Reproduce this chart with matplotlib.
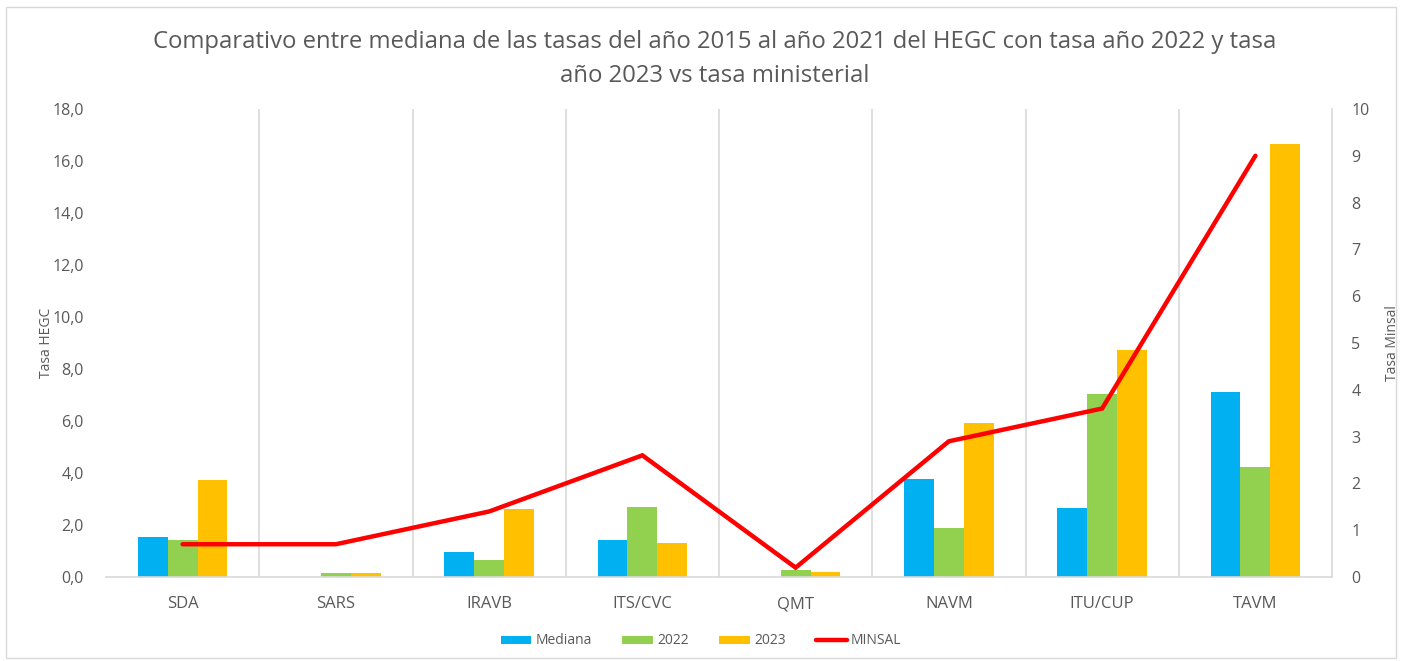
import matplotlib
matplotlib.use("Agg")
import matplotlib.pyplot as plt
import numpy as np
from matplotlib.patches import Rectangle

categories = ["SDA", "SARS", "IRAVB", "ITS/CVC", "QMT", "NAVM", "ITU/CUP", "TAVM"]
mediana = [1.55, 0.0, 0.95, 1.42, 0.0, 3.77, 2.65, 7.12]
y2022 = [1.41, 0.15, 0.67, 2.69, 0.26, 1.87, 7.05, 4.22]
y2023 = [3.72, 0.15, 2.62, 1.31, 0.19, 5.91, 8.75, 16.64]
minsal = [0.7, 0.7, 1.4, 2.6, 0.2, 2.9, 3.6, 9.0]

left_ticks = [0, 2, 4, 6, 8, 10, 12, 14, 16, 18]
right_ticks = list(range(0, 11))

title = "Comparativo entre mediana de las tasas del año 2015 al año 2021 del HEGC con tasa año 2022 y tasa\naño 2023 vs tasa ministerial"

plt.rcParams['font.family'] = ['Open Sans', 'DejaVu Sans']
gray = "#595959"
c_med, c_22, c_23, c_min = "#00B0F0", "#92D050", "#FFC000", "#FF0000"

fig = plt.figure(figsize=(14.02, 6.61), dpi=100)
fig.patch.set_facecolor("white")
fig.add_artist(Rectangle((0.004, 0.005), 0.992, 0.985, transform=fig.transFigure,
                         fill=False, edgecolor="#D9D9D9", linewidth=1.0))

ax = fig.add_axes([106/1402, 1-577/661, (1332-106)/1402, (577-109)/661])
x = np.arange(len(categories))
w = 0.195
ax.bar(x - w, mediana, w, color=c_med, label="Mediana", zorder=2)
ax.bar(x, y2022, w, color=c_22, label="2022", zorder=2)
ax.bar(x + w, y2023, w, color=c_23, label="2023", zorder=2)
ax.set_xlim(-0.5, len(categories) - 0.5)
ax.set_ylim(0, 18)
ax.set_yticks(left_ticks)
ax.set_yticklabels([f"{t:.1f}".replace(".", ",") for t in left_ticks])
ax.set_xticks(x)
ax.set_xticklabels(categories)
for b in np.arange(0.5, len(categories) - 0.5, 1):
    ax.axvline(b, color="#D9D9D9", linewidth=1.2, zorder=0)
for s in ["top", "left"]:
    ax.spines[s].set_visible(False)
ax.spines["bottom"].set_color("#D9D9D9")
ax.spines["bottom"].set_linewidth(1.2)
ax.spines["right"].set_color("#D9D9D9")
ax.spines["right"].set_linewidth(1.2)
ax.tick_params(axis="both", length=0, colors=gray, labelsize=11.5)
ax.tick_params(axis="x", pad=14, labelsize=12)
ax.tick_params(axis="y", pad=16)
ax.set_ylabel("Tasa HEGC", color=gray, fontsize=10, labelpad=0)
ax.yaxis.set_label_coords(-52/1226, 0.5)

ax2 = ax.twinx()
ax2.plot(x, minsal, color=c_min, linewidth=3.2, label="MINSAL", zorder=3,
         solid_capstyle="round", solid_joinstyle="miter")
ax2.set_ylim(0, 10)
ax2.set_yticks(right_ticks)
ax2.tick_params(axis="y", length=0, colors=gray, labelsize=11.5, pad=14)
for s in ["top", "left", "bottom", "right"]:
    ax2.spines[s].set_visible(False)
ax2.set_ylabel("Tasa Minsal", color=gray, fontsize=10)
ax2.yaxis.set_label_coords(1 + 53/1226, 0.5)

fig.text(715/1402, 1 - 59/661, title, ha="center", va="center", fontsize=17.2,
         color=gray, linespacing=1.5)

h1, l1 = ax.get_legend_handles_labels()
h2, l2 = ax2.get_legend_handles_labels()
fig.legend(h1 + h2, l1 + l2, loc="center", bbox_to_anchor=(0.5, 1 - 641/661),
           ncol=4, frameon=False, fontsize=10, labelcolor=gray,
           handlelength=2.2, handleheight=0.5, handletextpad=0.3, columnspacing=2.2)

fig.savefig("out.png", dpi=100, facecolor="white")
